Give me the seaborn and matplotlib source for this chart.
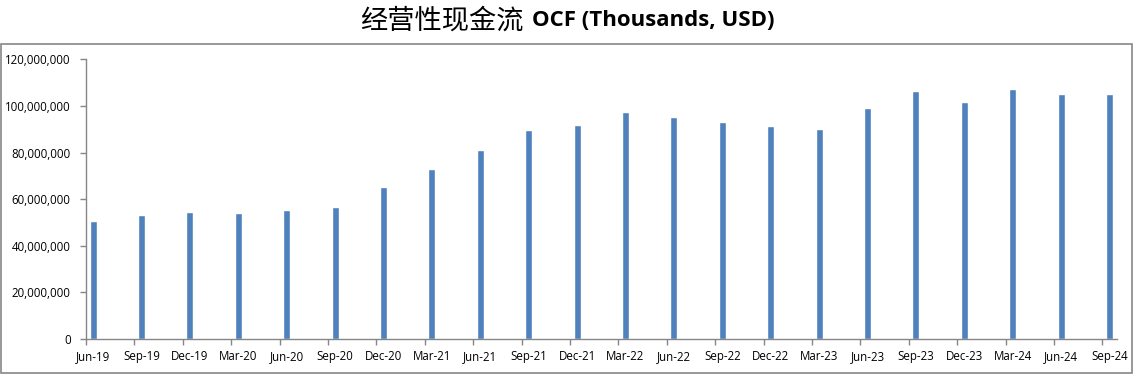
import matplotlib
matplotlib.use("Agg")
import matplotlib.pyplot as plt
import seaborn as sns
import pandas as pd
from matplotlib.ticker import FuncFormatter, FixedLocator
from matplotlib.patches import Rectangle

quarters = ["Jun-19", "Sep-19", "Dec-19", "Mar-20", "Jun-20", "Sep-20", "Dec-20",
            "Mar-21", "Jun-21", "Sep-21", "Dec-21", "Mar-22", "Jun-22", "Sep-22",
            "Dec-22", "Mar-23", "Jun-23", "Sep-23", "Dec-23", "Mar-24", "Jun-24", "Sep-24"]
ocf = [50.6e6, 53.1e6, 54.4e6, 54.0e6, 55.3e6, 56.6e6, 65.1e6,
       72.9e6, 81.0e6, 89.6e6, 91.7e6, 97.3e6, 95.1e6, 93.0e6,
       91.3e6, 90.0e6, 99.0e6, 106.3e6, 101.6e6, 107.1e6, 105.0e6, 105.0e6]
title_cn = "经营性现金流"
title_en = "OCF (Thousands, USD)"

sns.set_theme(style="white")
plt.rcParams['font.family'] = ['Open Sans', 'DejaVu Sans']

W, H = 1143, 383
fig = plt.figure(figsize=(W / 100, H / 100), dpi=100)
ax = fig.add_axes([86 / W, 1 - 339 / H, (1117 - 86) / W, (339 - 59.3) / H])

df = pd.DataFrame({"quarter": quarters, "ocf": ocf})
bw = 0.145
sns.barplot(data=df, x="quarter", y="ocf", color="#4F81BD", saturation=1,
            width=bw, ax=ax)

ax.set_ylim(0, 120e6)
ax.set_xlim(-bw, len(quarters) - bw - 0.7)
ax.set_yticks([0, 20e6, 40e6, 60e6, 80e6, 100e6, 120e6])
ax.yaxis.set_major_formatter(FuncFormatter(lambda v, p: f"{int(v):,}"))
ax.xaxis.set_minor_locator(FixedLocator([i - bw for i in range(len(quarters))]))
ax.set_xlabel("")
ax.set_ylabel("")

for s in ["top", "right"]:
    ax.spines[s].set_visible(False)
for s in ["left", "bottom"]:
    ax.spines[s].set_color("#868686")
    ax.spines[s].set_linewidth(1.0)

ax.tick_params(axis="x", which="major", length=0, pad=8, labelsize=8.3, labelcolor="black")
ax.tick_params(axis="x", which="minor", length=4.5, width=1, color="#868686",
               direction="out", bottom=True)
ax.tick_params(axis="y", which="major", length=4, width=1, color="#868686",
               direction="out", left=True, labelsize=8.3, labelcolor="black", pad=7)

# outer border
fig.patches.append(Rectangle((0.5 / W, 1 - 373 / H), (1132 - 0.5) / W, (373 - 44) / H,
                             transform=fig.transFigure, fill=False,
                             edgecolor="#868686", linewidth=1.2))

# title: Chinese regular + Latin bold
t1 = fig.text(360 / W, 1 - 21 / H, title_cn, fontsize=19.6, color="black",
              family=['Noto Sans CJK SC', 'DejaVu Sans'], ha="left", va="center")
fig.canvas.draw()
bb = t1.get_window_extent()
fig.text((bb.x1 + 8) / W, 1 - 21 / H, title_en, fontsize=16, fontweight="bold",
         color="black", family=['Open Sans', 'DejaVu Sans'], ha="left", va="center")

fig.savefig("out.png", dpi=100)
